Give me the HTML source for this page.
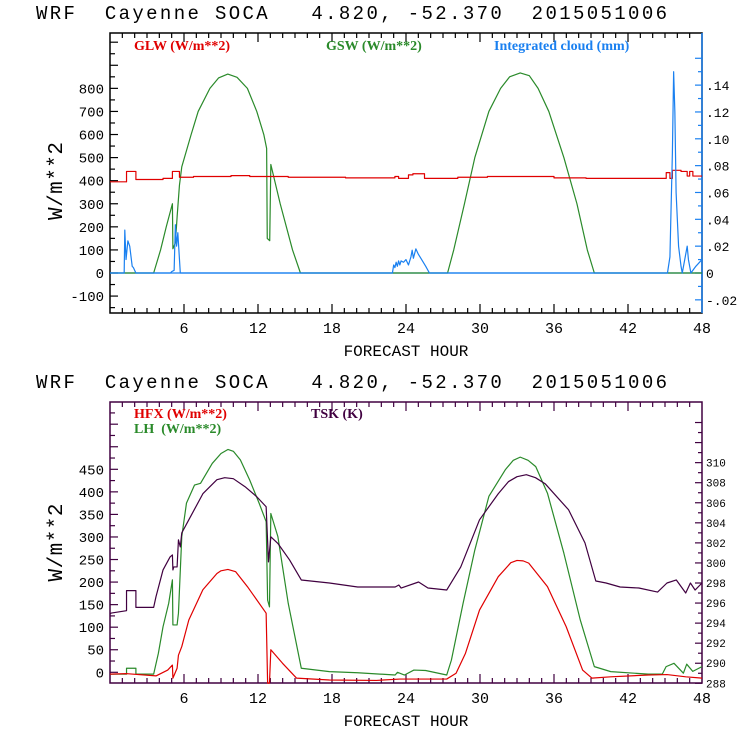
<!DOCTYPE html>
<html><head><meta charset="utf-8">
<style>
body{margin:0;background:#fff;}
svg{display:block;}
text{font-family:"Liberation Mono",monospace;white-space:pre;}
.leg{font-family:"Liberation Serif",serif;font-size:14px;font-weight:bold;}
</style></head>
<body>
<svg id="chart" width="740" height="740" viewBox="0 0 740 740" xmlns="http://www.w3.org/2000/svg" xml:space="preserve">
<g id="top"></g>
<g id="bot"></g>
</svg>
<script>
// ---- Top panel data ----
const gswHours = [0,3.54,4.1,4.56,5.06,5.1,5.3,5.45,5.63,5.82,6.58,7.15,8.1,8.8,9.55,10.3,11.14,11.9,12.47,12.7,12.75,12.95,13.04,13.8,14.8,15.44,27.37,27.87,28.74,29.58,30.72,31.67,32.4,33.26,34.0,34.71,35.58,36.8,37.86,38.7,39.27,48];
const gswValues = [0,0,100,200,300,105,130,250,380,460,600,700,800,845,862,848,800,700,600,540,150,140,470,300,100,0,0,100,300,500,700,800,850,867,855,800,700,500,300,100,0,0];
const glwHours = [0,1.34,1.34,2.1,2.1,4.3,4.3,5.06,5.06,5.63,5.63,6.77,6.77,9.81,9.81,11.33,11.33,14.45,14.45,19.1,19.1,23.1,23.1,23.4,23.4,24.2,24.2,24.56,24.56,25.5,25.5,28.2,28.2,30.6,30.6,36.0,36.0,38.6,38.6,45.1,45.1,45.4,45.4,45.6,45.6,46.3,46.3,46.8,46.8,47.0,47.0,47.26,47.26,48];
const glwValues = [395,395,440,440,405,405,410,410,440,440,415,415,418,418,422,422,418,418,415,415,412,412,418,418,410,410,425,425,430,430,410,410,415,415,418,418,412,412,410,410,435,435,410,410,445,445,440,440,420,420,440,440,420,420];
const cloudHours = [0,1.15,1.2,1.3,1.45,1.6,1.8,1.9,2.0,2.1,4.9,5.0,5.2,5.3,5.4,5.5,5.7,22.9,23.0,23.1,23.2,23.3,23.4,23.5,23.6,23.8,24.0,24.2,24.4,24.5,24.6,24.8,25.0,25.2,25.6,25.9,45.2,45.4,45.6,45.7,45.8,45.9,46.1,46.3,46.4,46.6,46.8,46.9,47.1,47.5,48];
const cloudValues = [0,0,0.032,0.01,0.024,0.02,0.005,0.004,0.002,0,0,0.001,0.002,0.036,0.02,0.03,0,0,0.006,0.004,0.008,0.005,0.009,0.006,0.009,0.008,0.01,0.006,0.012,0.017,0.011,0.018,0.014,0.011,0.005,0,0,0.012,0.09,0.15,0.12,0.06,0.02,0.005,0,0.01,0.02,0.01,0,0.005,0.01];
const topLeftTicks = ["-100","0","100","200","300","400","500","600","700","800"];
const topRightTicks = ["-.02","0",".02",".04",".06",".08",".10",".12",".14"];
const xTickLabels = ["6","12","18","24","30","36","42","48"];

// ---- Bottom panel data ----
const hfxHours = [0,1.34,3.73,4.68,5.06,5.1,5.44,5.55,5.82,6.39,7.53,8.67,9.0,9.56,10.19,11.14,12.66,12.78,12.93,13.04,13.99,15.13,17.79,21.6,23.5,27.3,28.06,28.82,29.96,31.48,32.5,33.0,33.5,33.95,35.47,36.99,38.32,39.08,40.6,43.64,45.16,46.68,48];
const hfxValues = [-4,-3,-8,5,16,-13,9,38,57,116,183,219,225,228,223,190,131,-24,-24,50,20,-13,-17,-18,-15,-15,-2,42,138,212,243,248,247,242,190,101,5,-13,-10,-6,-5,-10,-13];
const lhHours = [0,1.34,1.34,2.1,2.1,3.54,3.92,4.3,4.76,5.06,5.1,5.44,5.55,5.82,6.2,6.85,7.34,8.29,9.0,9.56,10.0,10.57,11.33,12.09,12.66,12.78,12.93,13.04,13.61,14.45,15.51,17.79,20.08,23.12,23.31,23.88,24.64,25.59,27.3,27.68,28.63,29.58,30.72,32.05,32.7,33.26,33.9,34.52,35.47,36.8,38.13,39.27,40.6,43.64,44.78,45.09,45.73,46.49,46.76,47.25,48];
const lhValues = [-4,-4,9,9,-4,-4,42,101,153,205,105,105,131,301,375,415,419,463,485,494,490,471,426,375,334,160,145,352,301,153,9,1.5,-1,-6,0,-6,5,4,-6,27,153,271,390,449,470,477,470,456,397,264,116,12.6,1.5,-4,-4,12.6,20,-2,18,2,12.6];
const tskHours = [0,0.1,1.34,1.34,2.1,2.1,3.54,3.73,4.3,4.87,5.06,5.1,5.17,5.44,5.55,5.7,5.82,6.39,7.53,8.67,9.3,10.0,10.95,11.9,12.66,12.85,13.04,13.61,14.56,15.51,17.79,20.08,23.12,23.42,23.6,25.02,25.78,27.3,28.44,29.96,31.48,32.3,33.0,33.76,34.5,35.28,37.18,38.51,39.39,40.22,41.36,42.88,44.4,45.16,45.92,46.68,47.06,47.44,48];
const tskValues = [294.9,295.0,295.24,297.24,297.24,295.57,295.57,296.64,299.3,300.6,300.8,299.3,299.6,299.6,302.3,301.6,303.0,304.3,306.9,308.3,308.5,308.4,307.6,306.6,305.6,300.1,302.6,301.95,300.3,298.3,298.0,297.6,297.6,297.8,297.5,298.1,297.5,297.3,299.6,304.3,306.9,308.1,308.6,308.8,308.5,307.9,305.3,302.0,298.2,298.0,297.6,297.5,297.1,298.0,298.3,297.0,298.0,297.3,298.0];
const botLeftTicks = ["0","50","100","150","200","250","300","350","400","450"];
const botRightTicks = ["288","290","292","294","296","298","300","302","304","306","308","310"];

const NS = "http://www.w3.org/2000/svg";
function mk(parent, tag, attrs){ const e=document.createElementNS(NS,tag); for(const k in attrs) e.setAttribute(k,attrs[k]); parent.appendChild(e); return e; }
const X0=110, X1=702;
const xs = h => X0 + (h/48)*(X1-X0);

function line(parent, hours, vals, yfn, color, name){
  const pts = hours.map((h,i)=> xs(h).toFixed(2)+","+yfn(vals[i]).toFixed(2)).join(" ");
  const p = mk(parent,"polyline",{points:pts,fill:"none",stroke:color,"stroke-width":"1.2","stroke-linejoin":"round"});
  
  
}
function text(parent, x, y, s, attrs, name){
  const t = mk(parent,"text",Object.assign({x:x,y:y},attrs)); t.textContent=s;
  
  
  return t;
}

function panel(g, yTop, yBot, frameColor, titleOffset){
  text(g,36,yTop-14,"WRF  Cayenne SOCA   4.820, -52.370  2015051006",{"font-size":"19","textLength":"631","lengthAdjust":"spacing",fill:"#000"},"chart-title");
  const fr = mk(g,"rect",{x:X0,y:yTop,width:X1-X0,height:yBot-yTop,fill:"none",stroke:frameColor,"stroke-width":"1.5"});
  
  
  for(let h=1;h<48;h++){
    const L = h%6===0?9:5;
    mk(g,"line",{x1:xs(h),x2:xs(h),y1:yBot,y2:yBot-L,stroke:frameColor,"stroke-width":"1.2"});
    mk(g,"line",{x1:xs(h),x2:xs(h),y1:yTop,y2:yTop+L,stroke:frameColor,"stroke-width":"1.2"});
  }
  xTickLabels.forEach((s,i)=>{ text(g,xs((i+1)*6),yBot+20,s,{"font-size":"15","text-anchor":"middle",fill:"#000"},"x-tick-label"); });
  text(g,(X0+X1)/2,yBot+43,"FORECAST HOUR",{"font-size":"16","text-anchor":"middle",fill:"#000"},"x-axis-title");
  text(g,-39,7,"W/m**2",{"font-size":"21","textLength":"78","lengthAdjust":"spacing",fill:"#000",transform:"translate(55,"+((yTop+yBot)/2+titleOffset)+") rotate(-90)"},"y-axis-title");
}

// ---- Top ----
(function(){
  const g=document.getElementById("top");
  const yTop=33,yBot=313;
  const yl = v => 273 - v*0.2308;
  const yr = v => 273 - v*1342;
  panel(g,yTop,yBot,"#000",8);
  mk(g,"line",{x1:X1,x2:X1,y1:yTop,y2:yBot,stroke:"#1a80f0","stroke-width":"1.5"});
  for(let v=-150; v<=1000; v+=50){ const y=yl(v); if(y<yTop||y>yBot) continue;
    mk(g,"line",{x1:X0,x2:X0+(v%100===0?8:5),y1:y,y2:y,stroke:"#000","stroke-width":"1.2"}); }
  topLeftTicks.forEach(s=>{ text(g,104,yl(+s)+5,s,{"font-size":"14","text-anchor":"end",fill:"#000"},"left-tick-label"); });
  for(let k=-2;k<=16;k++){ const y=yr(k*0.01); if(y<yTop||y>yBot) continue;
    mk(g,"line",{x1:X1,x2:X1-(k%2===0?7:4),y1:y,y2:y,stroke:"#1a80f0","stroke-width":"1.2"}); }
  topRightTicks.forEach(s=>{ text(g,706,yr(parseFloat(s))+5,s,{"font-size":"13",fill:"#000"},"right-tick-label"); });
  mk(g,"line",{x1:X0,x2:X1,y1:yl(0),y2:yl(0),stroke:"#1a80f0","stroke-width":"1.2"});
  line(g,gswHours,gswValues,yl,"#2a8a2a","gsw-line");
  line(g,glwHours,glwValues,yl,"#e00000","glw-line");
  line(g,cloudHours,cloudValues,yr,"#1a80f0","cloud-line");
  text(g,134,50,"GLW (W/m**2)",{"class":"leg",fill:"#e00000"},"legend-glw");
  text(g,326,50,"GSW (W/m**2)",{"class":"leg",fill:"#2a8a2a"},"legend-gsw");
  text(g,494,50,"Integrated cloud (mm)",{"class":"leg",fill:"#1a80f0"},"legend-cloud");
})();

// ---- Bottom ----
(function(){
  const g=document.getElementById("bot");
  const yTop=402,yBot=683;
  const yl = v => 672.3 - v*0.4511;
  const yr = v => 683.3 - (v-288)*10.03;
  const pc="#400040";
  panel(g,yTop,yBot,pc,0);
  for(let v=-25; v<=600; v+=25){ const y=yl(v); if(y<yTop||y>yBot) continue;
    mk(g,"line",{x1:X0,x2:X0+(v%50===0?8:5),y1:y,y2:y,stroke:pc,"stroke-width":"1.2"}); }
  botLeftTicks.forEach(s=>{ text(g,104,yl(+s)+5,s,{"font-size":"14","text-anchor":"end",fill:"#000"},"left-tick-label"); });
  for(let k=288;k<=314;k++){ const y=yr(k); if(y<yTop||y>yBot+1) continue;
    mk(g,"line",{x1:X1,x2:X1-(k%2===0?7:4),y1:y,y2:y,stroke:pc,"stroke-width":"1.2"}); }
  botRightTicks.forEach(s=>{ text(g,706,yr(+s)+4,s,{"font-size":"11",fill:"#000"},"right-tick-label"); });
  line(g,lhHours,lhValues,yl,"#2a8a2a","lh-line");
  line(g,tskHours,tskValues,yr,"#400040","tsk-line");
  line(g,hfxHours,hfxValues,yl,"#e00000","hfx-line");
  text(g,134,418,"HFX (W/m**2)",{"class":"leg",fill:"#e00000"},"legend-hfx");
  text(g,134,433,"LH  (W/m**2)",{"class":"leg",fill:"#2a8a2a"},"legend-lh");
  text(g,311,418,"TSK (K)",{"class":"leg",fill:"#400040"},"legend-tsk");
})();
</script>
</body></html>
